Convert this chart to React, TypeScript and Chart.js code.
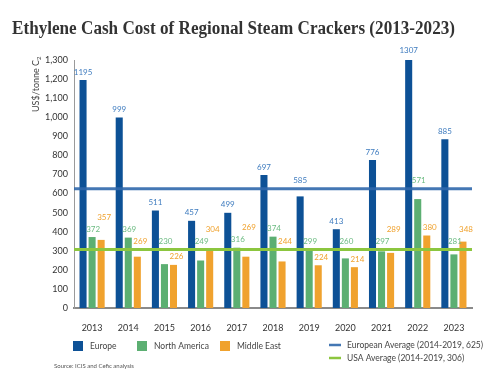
import React, { useEffect, useRef } from "react";
import { Chart, registerables } from "chart.js";
Chart.register(...registerables);

const years = ["2013","2014","2015","2016","2017","2018","2019","2020","2021","2022","2023"];
const europe = [1195, 999, 511, 457, 499, 697, 585, 413, 776, 1307, 885];
const northAmerica = [372, 369, 230, 249, 316, 374, 299, 260, 297, 571, 281];
const middleEast = [357, 269, 226, 304, 269, 244, 224, 214, 289, 380, 348];
const europeAvg = 625;
const usaAvg = 306;
const yTicks = [0,100,200,300,400,500,600,700,800,900,1000,1100,1200,1300];

const titleText = "Ethylene Cash Cost of Regional Steam Crackers (2013-2023)";
const seriesNames = ["Europe", "North America", "Middle East"];
const avgNames = ["European Average (2014-2019, 625)", "USA Average (2014-2019, 306)"];
const sourceText = "Source: ICIS and Cefic analysis";

const barColors = ["#0d5196", "#5caf72", "#f0a22e"];
const labelColors = ["#3f7cbf", "#6cbb82", "#f0a22e"];
const blueLine = "rgba(48,104,172,0.9)";
const greenLine = "#8cc63f";
const FONT = "Lato, 'Open Sans', sans-serif";

const decor = {
  id: "decor",
  afterDatasetsDraw(chart: any) {
    const ctx = chart.ctx;
    const { left, right } = chart.chartArea;
    const y = chart.scales.y;
    ctx.save();
    ctx.lineWidth = 3;
    const yb = y.getPixelForValue(europeAvg);
    const yg = y.getPixelForValue(usaAvg);
    ctx.strokeStyle = blueLine;
    ctx.beginPath(); ctx.moveTo(left, yb); ctx.lineTo(right, yb); ctx.stroke();
    ctx.strokeStyle = greenLine;
    ctx.beginPath(); ctx.moveTo(left, yg); ctx.lineTo(right, yg); ctx.stroke();

    // value labels
    ctx.font = `8px ${FONT}`;
    ctx.textAlign = "center";
    ctx.textBaseline = "middle";
    const n = years.length;
    for (let i = 0; i < n; i++) {
      const placed: { x: number; y: number; w: number }[] = [];
      for (let d = 0; d < 3; d++) {
        const el = chart.getDatasetMeta(d).data[i];
        const v = chart.data.datasets[d].data[i];
        const txt = String(v);
        const w = ctx.measureText(txt).width;
        const lx = el.x + (d === 0 ? 0 : d === 1 ? 1 : 3);
        let ly = el.y - 8;
        for (const ln of [yb, yg]) {
          if (Math.abs(ly - ln) < 7) ly = ln - 8;
        }
        for (const p of placed) {
          if (Math.abs(p.x - lx) < (p.w + w) / 2 && Math.abs(p.y - ly) < 9) {
            ly = p.y - 12;
          }
        }
        placed.push({ x: lx, y: ly, w });
        ctx.fillStyle = labelColors[d];
        ctx.fillText(txt, lx, ly);
      }
    }
    ctx.restore();
  },
  afterDraw(chart: any) {
    const ctx = chart.ctx;
    ctx.save();
    // title
    ctx.fillStyle = "#333333";
    ctx.font = `bold 18.5px 'Liberation Serif', 'DejaVu Serif', serif`;
    ctx.textAlign = "left";
    ctx.textBaseline = "alphabetic";
    ctx.fillText(titleText, 12, 34, 443);

    // y axis title
    ctx.save();
    ctx.translate(39, 112);
    ctx.rotate(-Math.PI / 2);
    ctx.font = `9px ${FONT}`;
    ctx.fillStyle = "#444";
    ctx.textBaseline = "alphabetic";
    ctx.textAlign = "left";
    const base = "US$/tonne C";
    ctx.fillText(base, 0, 0);
    const bw = ctx.measureText(base).width;
    ctx.font = `6px ${FONT}`;
    ctx.fillText("2", bw, 1.5);
    ctx.restore();

    // legend boxes
    ctx.font = `8.5px ${FONT}`;
    ctx.textBaseline = "middle";
    ctx.textAlign = "left";
    const boxX = [73, 137, 220];
    for (let d = 0; d < 3; d++) {
      ctx.fillStyle = barColors[d];
      ctx.fillRect(boxX[d], 341, 10, 10);
      ctx.fillStyle = "#444";
      ctx.fillText(seriesNames[d], boxX[d] + 17, 346.5);
    }
    // line legend
    ctx.lineWidth = 2.5;
    const rows = [345, 358];
    const cols = [blueLine, greenLine];
    for (let k = 0; k < 2; k++) {
      ctx.strokeStyle = cols[k];
      ctx.beginPath(); ctx.moveTo(329, rows[k]); ctx.lineTo(341, rows[k]); ctx.stroke();
      ctx.fillStyle = "#444";
      ctx.fillText(avgNames[k], 347, rows[k] + 0.5);
    }
    // source
    ctx.font = `6px ${FONT}`;
    ctx.fillStyle = "#555";
    ctx.fillText(sourceText, 54, 366);
    ctx.restore();
  },
};

export default function App() {
  const ref = useRef<HTMLCanvasElement>(null);
  useEffect(() => {
    document.body.style.margin = "0";
    const chart = new Chart(ref.current!, {
      type: "bar",
      data: {
        labels: years,
        datasets: [
          { label: seriesNames[0], data: europe, backgroundColor: barColors[0] },
          { label: seriesNames[1], data: northAmerica, backgroundColor: barColors[1] },
          { label: seriesNames[2], data: middleEast, backgroundColor: barColors[2] },
        ],
      },
      options: {
        responsive: false,
        animation: false,
        devicePixelRatio: 1,
        layout: { padding: { top: 60, right: 28, bottom: 0, left: 0 } },
        datasets: { bar: { categoryPercentage: 0.75, barPercentage: 0.78 } } as any,
        plugins: { legend: { display: false }, tooltip: { enabled: false }, title: { display: false } },
        scales: {
          x: {
            grid: { display: false, drawTicks: false },
            border: { display: true, color: "#8a8a8a", width: 2 },
            ticks: { padding: 15, color: "#333", font: { family: FONT, size: 9 } },
            afterFit: (s: any) => { s.height = 68; },
          },
          y: {
            min: 0,
            max: 1300,
            afterBuildTicks: (s: any) => { s.ticks = yTicks.map((v) => ({ value: v })); },
            grid: { display: false, drawTicks: false },
            border: { display: true, color: "#9a9a9a", width: 1 },
            ticks: {
              padding: 6,
              color: "#333",
              font: { family: FONT, size: 9 },
              callback: (v: any) => Number(v).toLocaleString("en-US"),
            },
            afterFit: (s: any) => { s.width = 74; },
          },
        },
      },
      plugins: [decor],
    });
    return () => chart.destroy();
  }, []);
  return <canvas ref={ref} width={500} height={376} style={{ display: "block" }} />;
}
